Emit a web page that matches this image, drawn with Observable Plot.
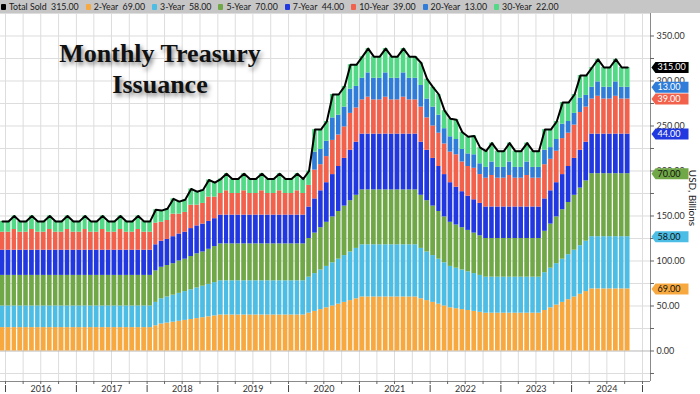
<!DOCTYPE html>
<html><head><meta charset="utf-8">
<script src="https://cdn.jsdelivr.net/npm/d3@7"></script>
<script src="https://cdn.jsdelivr.net/npm/@observablehq/plot@0.6"></script>
<style>
html,body{margin:0;padding:0;background:#fff;}
#wrap{position:relative;width:700px;height:394px;overflow:hidden;font-family:Lato,"Open Sans",sans-serif;}
#legend{position:absolute;left:0;top:0;width:700px;height:13px;background:#c6c6c6;font-size:8.8px;color:#1a1a1a;display:flex;align-items:center;padding-left:1px;box-sizing:border-box;white-space:pre;}
#legend .item{display:flex;align-items:center;margin-right:7px;}
#legend .sw{display:inline-block;width:5px;height:6px;margin-right:3px;border-radius:1px;}
#chart{position:absolute;left:0;top:13px;}
#title{position:absolute;left:0;top:38px;width:320px;text-align:center;font-family:"Liberation Serif","Times New Roman",serif;font-weight:bold;font-size:26px;line-height:31px;color:#111;text-shadow:2px 3px 4px rgba(0,0,0,0.5);pointer-events:none;}
</style></head>
<body>
<div id="wrap">
  <div id="chart"></div>
  <div id="legend"></div>
  <div id="title">Monthly Treasury<br>Issuance</div>
</div>
<script>
// ---- Data (USD billions, monthly, Dec 2015 .. Oct 2024) ----
const firstMonth = "2015-12";
const lastMonth = "2024-10";
const seriesNames = ["2-Year", "3-Year", "5-Year", "7-Year", "10-Year", "20-Year", "30-Year"];
const seriesColors = ["#f7a940", "#4cbde5", "#70a847", "#2137e0", "#f2614b", "#2f7dd8", "#52d985"];

const y2 = [26,
  26,26,26,26,26,26,26,26,26,26,26,26,
  26,26,26,26,26,26,26,26,26,26,26,26,
  26,28,30,31,32,33,34,35,36,37,38,39,
  40,40,40,40,40,40,40,40,40,40,40,40,
  40,40,40,42,44,46,48,50,52,54,56,58,
  60,60,60,60,60,60,60,60,60,60,58,56,
  54,52,50,48,47,46,45,44,43,42,42,42,
  42,42,42,42,42,42,42,45,48,51,54,57,
  60,63,66,69,69,69,69,69,69,69];
const y3 = [24,
  24,24,24,24,24,24,24,24,24,24,24,24,
  24,24,24,24,24,24,24,24,24,24,24,24,
  24,26,28,29,30,31,32,33,34,35,36,37,
  38,38,38,38,38,38,38,38,38,38,38,38,
  38,38,38,40,42,44,46,48,50,52,54,56,
  58,58,58,58,58,58,58,58,58,58,56,54,
  52,50,48,46,45,44,43,42,41,40,40,40,
  40,40,40,40,40,40,40,42,44,46,48,50,
  52,54,56,58,58,58,58,58,58,58];
const y5 = [34,
  34,34,34,34,34,34,34,34,34,34,34,34,
  34,34,34,34,34,34,34,34,34,34,34,34,
  34,35,35,35,35,36,36,37,38,38,39,40,
  41,41,41,41,41,41,41,41,41,41,41,41,
  41,41,41,43,45,47,49,51,53,55,57,59,
  61,61,61,61,61,61,61,61,61,61,59,57,
  55,53,51,49,48,47,46,45,44,43,43,43,
  43,43,43,43,43,43,43,46,49,52,55,58,
  61,64,67,70,70,70,70,70,70,70];
const y7 = [28,
  28,28,28,28,28,28,28,28,28,28,28,28,
  28,28,28,28,28,28,28,28,28,28,28,28,
  28,29,29,29,30,30,30,31,31,31,31,31,
  32,32,32,32,32,32,32,32,32,32,32,32,
  32,32,32,35,38,41,44,47,50,53,56,59,
  62,62,62,62,62,62,62,62,62,62,59,56,
  53,50,47,44,42,40,38,37,36,35,35,35,
  35,35,35,35,35,35,35,36,37,38,39,40,
  41,42,43,44,44,44,44,44,44,44];
const y10 = [20,
  20,23,20,20,23,20,20,23,20,20,23,20,
  20,23,20,20,23,20,20,23,20,20,23,20,
  20,24,21,21,25,22,22,26,23,23,27,24,
  24,27,24,24,27,24,24,27,24,24,27,24,
  24,27,24,24,32,29,29,38,35,35,41,38,
  38,41,38,38,41,38,38,41,38,38,39,36,
  36,37,34,34,36,33,33,35,32,32,35,32,
  32,35,32,32,35,32,32,38,35,35,40,37,
  37,42,39,39,42,39,39,42,39,39];
const y20 = [0,
  0,0,0,0,0,0,0,0,0,0,0,0,
  0,0,0,0,0,0,0,0,0,0,0,0,
  0,0,0,0,0,0,0,0,0,0,0,0,
  0,0,0,0,0,0,0,0,0,0,0,0,
  0,0,0,0,20,17,17,25,22,22,27,24,
  24,27,24,24,27,24,24,27,24,24,24,21,
  21,20,17,17,17,14,14,15,12,12,15,12,
  12,15,12,12,15,12,12,16,13,13,16,13,
  13,16,13,13,16,13,13,16,13,13];
const y30 = [12,
  12,15,12,12,15,12,12,15,12,12,15,12,
  12,15,12,12,15,12,12,15,12,12,15,12,
  12,15,13,13,17,14,14,18,15,15,19,16,
  16,19,16,16,19,16,16,19,16,16,19,16,
  16,19,16,16,25,22,22,26,23,23,27,24,
  24,27,24,24,27,24,24,27,24,24,25,22,
  22,23,20,20,22,19,19,21,18,18,21,18,
  18,21,18,18,21,18,18,23,20,20,24,21,
  21,25,22,22,25,22,22,25,22,22];

const yTickLabels = [0, 50, 100, 150, 200, 250, 300, 350];
const yMinorTicks = [-25, 0, 25, 50, 75, 100, 125, 150, 175, 200, 225, 250, 275, 300, 325, 350];
const yearLabels = ["2016", "2017", "2018", "2019", "2020", "2021", "2022", "2023", "2024"];
const totalLabel = "Total Sold";
const axisTitle = "USD, Billions";

// ---- Build tables ----
const seriesValues = [y2, y3, y5, y7, y10, y20, y30];
const parseMonth = d3.utcParse("%Y-%m");
const months = d3.utcMonth.range(parseMonth(firstMonth), d3.utcMonth.offset(parseMonth(lastMonth), 1));
const mid = m => new Date((m.getTime() + d3.utcMonth.offset(m, 1).getTime()) / 2);

const rows = [];
months.forEach((m, i) => seriesNames.forEach((s, j) => rows.push({date: m, series: s, value: seriesValues[j][i]})));
const totals = months.map((m, i) => ({date: mid(m), total: d3.sum(seriesValues, v => v[i])}));

const xStart = new Date(Date.UTC(2015, 11, 6, 5));
const xEnd = new Date(Date.UTC(2025, 1, 11, 7));
const yDomain = [-33.9, 375];
const yBottom = yDomain[0];

const quarters = d3.utcMonth.every(3).range(new Date(Date.UTC(2016, 0, 1)), new Date(Date.UTC(2025, 0, 2)));
const yearStarts = yearLabels.map(y => new Date(Date.UTC(+y, 0, 1))).concat([new Date(Date.UTC(2025, 0, 1))]);
const yearMids = yearLabels.map(y => ({label: y, date: new Date(Date.UTC(+y, 6, 2))}));

// latest values
const n = months.length - 1;
const latest = seriesValues.map(v => v[n]);
const latestTotal = d3.sum(latest);
const fmt = d3.format(".2f");

// badges (cumulative tops)
const badgeFg = ["#111", "#111", "#111", "#fff", "#fff", "#fff", "#111"];
let cum = 0;
const badges = seriesNames.map((s, j) => { cum += latest[j]; return {label: fmt(latest[j]), pos: cum, bg: seriesColors[j], fg: badgeFg[j]}; });
badges.push({label: fmt(latestTotal), pos: latestTotal, bg: "#000", fg: "#fff"});

const tagSymbol = {draw(ctx) { ctx.moveTo(0, 0); ctx.lineTo(4, -5.5); ctx.lineTo(37, -5.5); ctx.lineTo(37, 5.5); ctx.lineTo(4, 5.5); ctx.closePath(); }};

const badgeMarks = badges.flatMap(b => [
  Plot.dot([b], {x: () => xEnd, y: "pos", symbol: tagSymbol, fill: b.bg, r: 5, dx: 1}),
  Plot.text([b], {x: () => xEnd, y: "pos", text: "label", fill: b.fg, dx: 7, textAnchor: "start", fontSize: 9})
]);

const chart = Plot.plot({
  width: 700, height: 381,
  marginLeft: 0, marginRight: 50, marginTop: 0, marginBottom: 13,
  x: {type: "utc", domain: [xStart, xEnd], axis: null},
  y: {domain: yDomain, axis: null},
  color: {domain: seriesNames, range: seriesColors},
  style: {fontFamily: "Lato, 'Open Sans', sans-serif", fontSize: "9px", background: "transparent", overflow: "visible"},
  marks: [
    Plot.ruleY(yMinorTicks.filter(d => d !== 0).concat([375]), {stroke: "#dddddd"}),
    Plot.ruleX(quarters, {stroke: "#dddddd"}),
    Plot.ruleY([0], {stroke: "#b5b5b5"}),
    Plot.rectY(rows, {x: "date", interval: "month", y: "value", fill: "series", order: seriesNames, insetLeft: 0.65, insetRight: 0.65}),
    Plot.line(totals, {x: "date", y: "total", stroke: "#000", strokeWidth: 2}),
    // right axis
    Plot.ruleX([xEnd], {stroke: "#8a8a8a"}),
    Plot.ruleY(yMinorTicks, {x1: () => xEnd, x2: () => xEnd, insetRight: -4, stroke: "#666"}),
    Plot.text(yTickLabels, {x: () => xEnd, y: d => d, text: d => fmt(d), dx: 6, textAnchor: "start", fill: "#333", fontSize: 9}),
    // bottom axis
    Plot.ruleY([yBottom], {stroke: "#8a8a8a"}),
    Plot.ruleX(quarters, {y1: () => yBottom, y2: () => yBottom, insetBottom: -3, stroke: "#666"}),
    Plot.ruleX(yearStarts, {y1: () => yBottom, y2: () => yBottom, insetTop: 4, insetBottom: -11, stroke: "#444"}),
    Plot.text(yearMids, {x: "date", y: () => yBottom, text: "label", dy: 8, fill: "#333", fontSize: 9}),
    ...badgeMarks,
    Plot.text([axisTitle], {x: () => xEnd, y: () => 170, text: d => d, rotate: 90, dx: 42, fill: "#222", fontSize: 10})
  ]
});
document.getElementById("chart").appendChild(chart);

// legend
const legend = document.getElementById("legend");
const entries = [{name: totalLabel, value: latestTotal, color: "#000"}].concat(seriesNames.map((s, j) => ({name: s, value: latest[j], color: seriesColors[j]})));
entries.forEach(e => {
  const it = document.createElement("span");
  it.className = "item";
  const sw = document.createElement("span");
  sw.className = "sw";
  sw.style.background = e.color;
  it.appendChild(sw);
  it.appendChild(document.createTextNode(e.name + "  " + fmt(e.value)));
  legend.appendChild(it);
});
</script>
</body></html>
